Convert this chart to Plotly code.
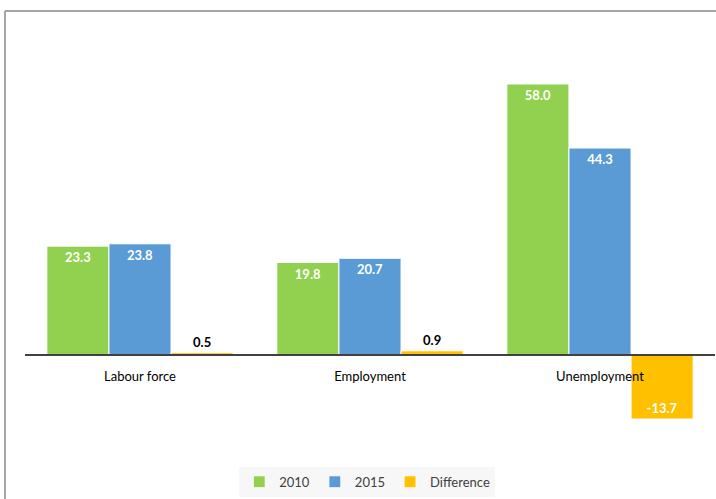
import plotly.graph_objects as go

categories = ["Labour force", "Employment", "Unemployment"]
values_2010 = [23.3, 19.8, 58.0]
values_2015 = [23.8, 20.7, 44.3]
values_diff = [0.5, 0.9, -13.7]

series_names = ["2010", "2015", "Difference"]
series_colors = ["#92D050", "#5B9BD5", "#FFC000"]

FONT = "Lato, Open Sans, sans-serif"
Y_RANGE = [-18.19, 69.56]

fig = go.Figure()

def label_style(vals, inside_color="white", outside_color="black"):
    # Small bars get their value above the bar in black; others inside in white.
    pos, cols = [], []
    for v in vals:
        if abs(v) < 3:
            pos.append("outside")
            cols.append(outside_color)
        else:
            pos.append("inside")
            cols.append(inside_color)
    return pos, cols

for name, vals, color in zip(series_names, [values_2010, values_2015, values_diff], series_colors):
    pos, cols = label_style(vals)
    fig.add_trace(go.Bar(
        name=name,
        x=categories,
        y=vals,
        marker=dict(color=color, line=dict(color="white", width=1)),
        text=[f"{v:.1f}" for v in vals],
        textposition=pos,
        insidetextanchor="end",
        textfont=dict(color=cols, size=13, family=FONT, weight="bold"),
        cliponaxis=False,
        constraintext="none",
    ))

zero_pos = (0 - Y_RANGE[0]) / (Y_RANGE[1] - Y_RANGE[0])

fig.update_layout(
    width=716,
    height=499,
    margin=dict(l=25, r=1, t=30, b=59),
    paper_bgcolor="white",
    plot_bgcolor="white",
    barmode="group",
    bargap=0.19,
    bargroupgap=0,
    font=dict(family=FONT, size=13, color="#000000"),
    showlegend=True,
    legend=dict(
        orientation="h",
        x=0.496, xanchor="center",
        y=-0.102, yanchor="middle",
        bgcolor="#F7F7F7",
        font=dict(size=13, color="#404040", family=FONT),
        itemwidth=30,
        tracegroupgap=0,
    ),
    xaxis=dict(
        anchor="free",
        position=zero_pos,
        showline=True,
        linecolor="#404040",
        linewidth=2,
        ticks="outside",
        ticklen=9,
        tickcolor="rgba(0,0,0,0)",
        tickfont=dict(size=13, color="#000000", family=FONT),
        showgrid=False,
    ),
    yaxis=dict(
        range=Y_RANGE,
        visible=False,
        showgrid=False,
        zeroline=False,
    ),
    shapes=[
        # chart frame (top and left edges)
        dict(type="line", xref="paper", yref="paper", x0=-0.029, x1=1.01, y0=1.0463, y1=1.0463,
             line=dict(color="#A6A6A6", width=2)),
        dict(type="line", xref="paper", yref="paper", x0=-0.029, x1=-0.029, y0=1.0463, y1=-0.2,
             line=dict(color="#A6A6A6", width=2)),
    ],
)

fig.write_html("out.html")
